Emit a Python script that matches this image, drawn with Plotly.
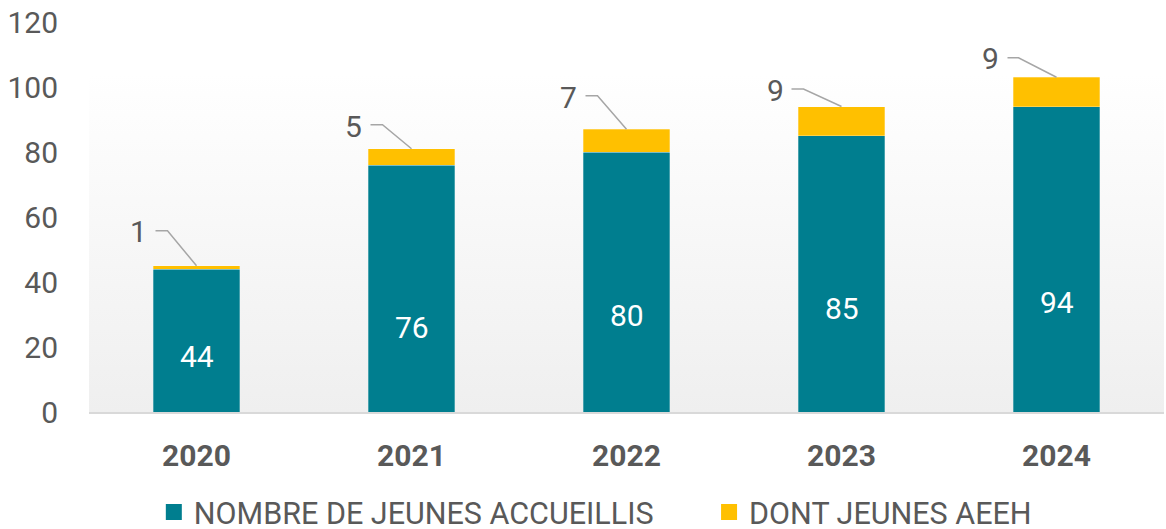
import plotly.graph_objects as go

# ---- data ----
years = ["2020", "2021", "2022", "2023", "2024"]
accueillis = [44, 76, 80, 85, 94]
aeeh = [1, 5, 7, 9, 9]
y_ticks = [0, 20, 40, 60, 80, 100, 120]
series_names = ["NOMBRE DE JEUNES ACCUEILLIS", "DONT JEUNES AEEH"]

# ---- style ----
TEAL = "#007E8F"
YELLOW = "#FFC000"
GREY = "#595959"
LEADER = "#A6A6A6"
FONT = "Roboto"

# label placement (style): inner label centre heights, outer label pixel offsets
inner_label_y = [17.2, 26.0, 29.7, 31.8, 33.7]
outer_label_shift = [(-58, 34), (-58, 22), (-58, 32), (-66, 16), (-66, 19)]
leader_elbow = [(-29, 35), (-29, 24), (-29, 33.5), (-38, 17.5), (-38, 19.5)]
leader_len = [12, 12, 12, 12, 11]

totals = [a + b for a, b in zip(accueillis, aeeh)]

fig = go.Figure()

# gradient background of the plot area (decoration, on base axes)
fig.add_trace(go.Scatter(
    x=[0, 1.002, 1.002, 0, 0], y=[0, 0, 0.869, 0.869, 0],
    xaxis="x", yaxis="y", mode="lines", line=dict(width=0),
    fill="toself", cliponaxis=False,
    fillgradient=dict(type="vertical", colorscale=[[0, "#efefef"], [1, "#ffffff"]]),
    hoverinfo="skip", showlegend=False,
))

fig.add_trace(go.Bar(
    x=years, y=accueillis, name=series_names[0], marker_color=TEAL,
    marker_line=dict(width=0.8, color="rgba(255,255,255,0.35)"),
    xaxis="x2", yaxis="y2", showlegend=False,
))
fig.add_trace(go.Bar(
    x=years, y=aeeh, name=series_names[1], marker_color=YELLOW,
    marker_line=dict(width=0.8, color="rgba(255,255,255,0.35)"),
    xaxis="x2", yaxis="y2", showlegend=False,
))

# legend entries with larger square swatches (one legend box each)
for name, col, lg in zip(series_names, [TEAL, YELLOW], ["legend", "legend2"]):
    fig.add_trace(go.Scatter(
        x=[years[0]], y=[None], mode="markers", name=name, legend=lg,
        marker=dict(symbol="square", size=20, color=col),
        xaxis="x2", yaxis="y2",
    ))

annotations = []
shapes = []
for i, yr in enumerate(years):
    annotations.append(dict(
        x=i, y=inner_label_y[i], xref="x2", yref="y2", text=str(accueillis[i]),
        showarrow=False, font=dict(family=FONT, size=30, color="white"),
    ))
    dx, dy = outer_label_shift[i]
    annotations.append(dict(
        x=i, y=totals[i], xref="x2", yref="y2", text=str(aeeh[i]),
        showarrow=False, xshift=dx, yshift=dy,
        font=dict(family=FONT, size=30, color=GREY),
    ))
    ex, ey = leader_elbow[i]
    shapes.append(dict(
        type="path", xref="x2", yref="y2", xsizemode="pixel", ysizemode="pixel",
        xanchor=i, yanchor=totals[i],
        path=f"M 0 0 L {ex} {ey} L {ex - leader_len[i]} {ey}",
        line=dict(color=LEADER, width=1.5),
    ))

legend_common = dict(
    orientation="h", xanchor="left", y=-0.257, yanchor="middle",
    font=dict(family=FONT, size=30.5, color=GREY), itemwidth=30,
    bgcolor="rgba(0,0,0,0)", borderwidth=0,
)

fig.update_layout(
    width=1166, height=529,
    margin=dict(l=89, r=2, t=22, b=117, autoexpand=False),
    paper_bgcolor="white", plot_bgcolor="rgba(0,0,0,0)",
    barmode="stack", bargap=0.596,
    font=dict(family=FONT, color=GREY),
    xaxis=dict(range=[0, 1], visible=False, fixedrange=True, automargin=False),
    yaxis=dict(range=[0, 1], visible=False, fixedrange=True, automargin=False),
    xaxis2=dict(
        overlaying="x", type="category", categoryorder="array", categoryarray=years,
        range=[-0.5, len(years) - 0.5], showgrid=False, ticks="", automargin=False,
        showline=True, linecolor="#D9D9D9", linewidth=1.5,
        tickfont=dict(family=FONT, size=30, color=GREY, weight="bold"),
        ticklabelstandoff=16,
    ),
    yaxis2=dict(
        overlaying="y", range=[0, 120], tickvals=y_ticks, showgrid=False,
        zeroline=False, showline=False, ticks="", automargin=False,
        tickfont=dict(family=FONT, size=30, color=GREY),
        ticklabelstandoff=30,
    ),
    legend=dict(x=0.0603, **legend_common),
    legend2=dict(x=0.5768, **legend_common),
    annotations=annotations, shapes=shapes,
)

fig.write_html(
    "out.html",
    config={"displayModeBar": False},
    post_script="document.body.style.margin='0';document.body.style.overflow='hidden';",
)
